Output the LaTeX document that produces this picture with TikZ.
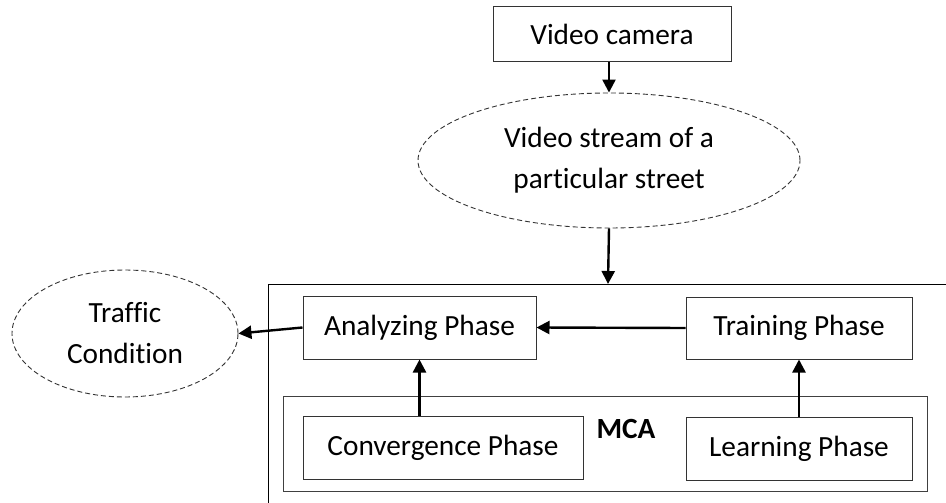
\documentclass[tikz,border=0pt]{standalone}
\usepackage{fontspec}
\setmainfont{Carlito}[Ligatures=NoCommon]
\usetikzlibrary{shapes.geometric,arrows.meta}
\tikzset{
  box/.style={draw=black!80, line width=1pt, rectangle, inner sep=0pt, align=center, font=\fontsize{29.3}{41}\selectfont},
  oval/.style={draw=black!80, line width=0.9pt, dash pattern=on 5pt off 3pt, ellipse, inner sep=0pt, align=center, font=\fontsize{29.3}{41}\selectfont},
  arr/.style={line width=2.4pt, -{Triangle[length=13pt,width=13pt]}},
}
\begin{document}
\begin{tikzpicture}[x=1pt,y=-1pt]
\useasboundingbox (0,0) rectangle (946,503);
% outer box
\draw[line width=1pt] (946,284) -- (268,284) -- (268,503);
\coordinate (otop) at (608,284);
% MCA box
\node[draw=black!75, line width=1pt, minimum width=644pt, minimum height=95pt, inner sep=0pt] (mca) at (605,443.5) {};
\node[font=\fontsize{29.3}{35}\selectfont\bfseries, inner sep=0pt] (mcat) at (626,428.5) {MCA};
\node[box, minimum width=238pt, minimum height=55pt] (cam) at (612,34.5) {Video camera};
\node[oval, minimum width=382pt, minimum height=135pt] (vs) at (609,160.5) {Video stream of a\\particular street};
\node[oval, minimum width=226pt, minimum height=127pt] (tc) at (125,333.5) {Traffic\\Condition};
\node[box, minimum width=233pt, minimum height=63pt] (ana) at (419.5,327.5) {Analyzing Phase};
\node[box, minimum width=226pt, minimum height=62pt] (tra) at (799,328) {Training Phase};
\node[box, minimum width=280pt, minimum height=63pt] (conv) at (443,447.5) {Convergence Phase};
\node[box, minimum width=226pt, minimum height=63pt] (lea) at (799,448.5) {Learning Phase};
% connectors
\draw[arr] (cam.south -| vs.north) -- (vs.north);
\draw[arr] (vs.south) -- (otop);
\draw[arr] (tra.west) -- (ana.east);
\draw[arr] (ana.west) -- (tc.east);
\draw[arr] (conv.north -| ana.south) -- (ana.south);
\draw[arr] (lea.north) -- (tra.south);
\end{tikzpicture}
\end{document}
